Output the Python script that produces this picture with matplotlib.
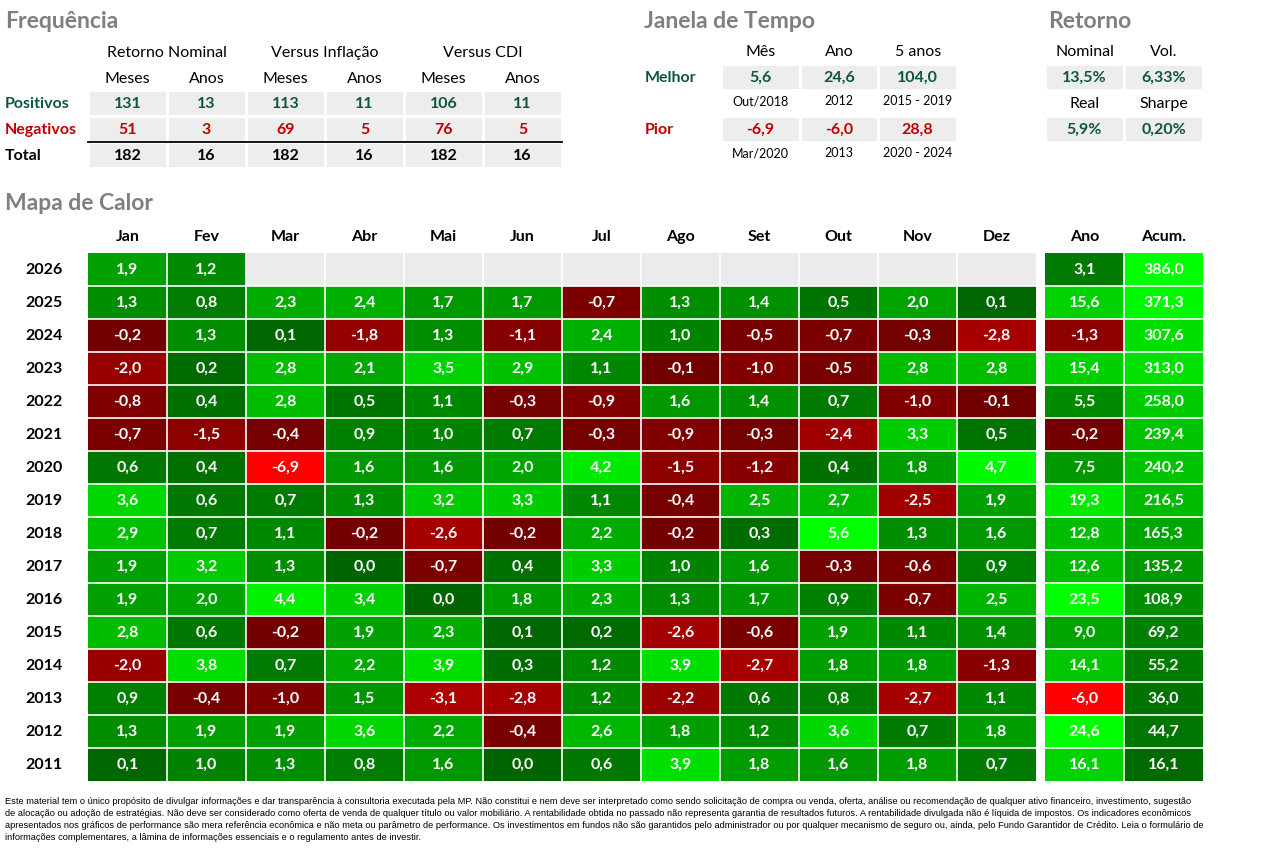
import numpy as np
import matplotlib
matplotlib.use('Agg')
import matplotlib.pyplot as plt
from matplotlib.colors import ListedColormap

plt.rcParams['font.family'] = ['Lato', 'DejaVu Sans']

# ---------------- data ----------------
years = [2026, 2025, 2024, 2023, 2022, 2021, 2020, 2019, 2018, 2017, 2016, 2015, 2014, 2013, 2012, 2011]
months = ['Jan', 'Fev', 'Mar', 'Abr', 'Mai', 'Jun', 'Jul', 'Ago', 'Set', 'Out', 'Nov', 'Dez']
monthly = [
    [1.9, 1.2, None, None, None, None, None, None, None, None, None, None],
    [1.3, 0.8, 2.3, 2.4, 1.7, 1.7, -0.7, 1.3, 1.4, 0.5, 2.0, 0.1],
    [-0.2, 1.3, 0.1, -1.8, 1.3, -1.1, 2.4, 1.0, -0.5, -0.7, -0.3, -2.8],
    [-2.0, 0.2, 2.8, 2.1, 3.5, 2.9, 1.1, -0.1, -1.0, -0.5, 2.8, 2.8],
    [-0.8, 0.4, 2.8, 0.5, 1.1, -0.3, -0.9, 1.6, 1.4, 0.7, -1.0, -0.1],
    [-0.7, -1.5, -0.4, 0.9, 1.0, 0.7, -0.3, -0.9, -0.3, -2.4, 3.3, 0.5],
    [0.6, 0.4, -6.9, 1.6, 1.6, 2.0, 4.2, -1.5, -1.2, 0.4, 1.8, 4.7],
    [3.6, 0.6, 0.7, 1.3, 3.2, 3.3, 1.1, -0.4, 2.5, 2.7, -2.5, 1.9],
    [2.9, 0.7, 1.1, -0.2, -2.6, -0.2, 2.2, -0.2, 0.3, 5.6, 1.3, 1.6],
    [1.9, 3.2, 1.3, 0.0, -0.7, 0.4, 3.3, 1.0, 1.6, -0.3, -0.6, 0.9],
    [1.9, 2.0, 4.4, 3.4, 0.0, 1.8, 2.3, 1.3, 1.7, 0.9, -0.7, 2.5],
    [2.8, 0.6, -0.2, 1.9, 2.3, 0.1, 0.2, -2.6, -0.6, 1.9, 1.1, 1.4],
    [-2.0, 3.8, 0.7, 2.2, 3.9, 0.3, 1.2, 3.9, -2.7, 1.8, 1.8, -1.3],
    [0.9, -0.4, -1.0, 1.5, -3.1, -2.8, 1.2, -2.2, 0.6, 0.8, -2.7, 1.1],
    [1.3, 1.9, 1.9, 3.6, 2.2, -0.4, 2.6, 1.8, 1.2, 3.6, 0.7, 1.8],
    [0.1, 1.0, 1.3, 0.8, 1.6, 0.0, 0.6, 3.9, 1.8, 1.6, 1.8, 0.7],
]
ano = [3.1, 15.6, -1.3, 15.4, 5.5, -0.2, 7.5, 19.3, 12.8, 12.6, 23.5, 9.0, 14.1, -6.0, 24.6, 16.1]
acum = [386.0, 371.3, 307.6, 313.0, 258.0, 239.4, 240.2, 216.5, 165.3, 135.2, 108.9, 69.2, 55.2, 36.0, 44.7, 16.1]

freq_groups = ['Retorno Nominal', 'Versus Inflação', 'Versus CDI']
freq_sub = ['Meses', 'Anos']
freq_rows = ['Positivos', 'Negativos', 'Total']
freq_pos = [131, 13, 113, 11, 106, 11]
freq_neg = [51, 3, 69, 5, 76, 5]
freq_tot = [182, 16, 182, 16, 182, 16]

jan_cols = ['Mês', 'Ano', '5 anos']
jan_melhor = [5.6, 24.6, 104.0]
jan_pior = [-6.9, -6.0, 28.8]
jan_melhor_ref = ['Out/2018', '2012', '2015 - 2019']
jan_pior_ref = ['Mar/2020', '2013', '2020 - 2024']

ret_cols1 = ['Nominal', 'Vol.']
ret_vals1 = [13.5, 6.33]
ret_cols2 = ['Real', 'Sharpe']
ret_vals2 = [5.9, 0.20]

footer = [
    "Este material tem o único propósito de divulgar informações e dar transparência à consultoria executada pela MP. Não constitui e nem deve ser interpretado como sendo solicitação de compra ou venda, oferta, análise ou recomendação de qualquer ativo financeiro, investimento, sugestão",
    "de alocação ou adoção de estratégias. Não deve ser considerado como oferta de venda de qualquer título ou valor mobiliário. A rentabilidade obtida no passado não representa garantia de resultados futuros. A rentabilidade divulgada não é líquida de impostos. Os indicadores econômicos",
    "apresentados nos gráficos de performance são mera referência econômica e não meta ou parâmetro de performance. Os investimentos em fundos não são garantidos pelo administrador ou por qualquer mecanismo de seguro ou, ainda, pelo Fundo Garantidor de Crédito. Leia o formulário de",
    "informações complementares, a lâmina de informações essenciais e o regulamento antes de investir.",
]

# ---------------- style ----------------
W, H = 1282, 859
GRAY_TITLE = '#7F7F7F'
CELL_GRAY = '#EDEDED'
DKGREEN = '#0E5641'
RED = '#C00000'
EMPTY = '#EBEBEB'

fig = plt.figure(figsize=(W / 100, H / 100), dpi=100)
fig.patch.set_facecolor('white')


def px_axes(x0, y0, x1, y1):
    ax = fig.add_axes([x0 / W, 1 - y1 / H, (x1 - x0) / W, (y1 - y0) / H])
    ax.set_axis_off()
    return ax


def ftext(x, y, s, **kw):
    fig.text(x / W, 1 - y / H, s, **kw)


def fmt(v, d=1):
    return f"{v:.{d}f}".replace('.', ',')


def color_for(v, gscale, rscale, gbase=100, rbase=110):
    if v >= 0:
        g = min(255, gbase + gscale * v)
        return (0, g / 255, 0)
    r = min(255, rbase + rscale * abs(v))
    return (r / 255, 0, 0)


def gray_block(ax, nrows, ncols):
    ax.pcolormesh(np.zeros((nrows, ncols)), cmap=ListedColormap([CELL_GRAY]),
                  edgecolors='white', linewidth=1.0)
    ax.set_xlim(0, ncols)
    ax.set_ylim(nrows, 0)


# ---------------- titles ----------------
title_kw = dict(fontsize=16.5, fontweight='bold', color=GRAY_TITLE, va='center', ha='left')
ftext(5, 21, 'Frequência', **title_kw)
ftext(644, 21, 'Janela de Tempo', **title_kw)
ftext(1048, 21, 'Retorno', **title_kw)
ftext(5, 204, 'Mapa de Calor', **title_kw)

# ---------------- Frequência ----------------
fx0, fx1 = 88, 562
ax_f = px_axes(fx0, 90, fx1, 168)
gray_block(ax_f, 3, 6)
ax_f.plot([0, 6], [2, 2], color='black', lw=1.3, clip_on=False)
row_colors = [DKGREEN, RED, 'black']
for r, vals in enumerate([freq_pos, freq_neg, freq_tot]):
    for c, v in enumerate(vals):
        ax_f.text(c + 0.5, r + 0.52, str(v), ha='center', va='center', fontsize=11.5,
                  fontweight='bold', color=row_colors[r])
cw = (fx1 - fx0) / 6
for g, name in enumerate(freq_groups):
    ftext(fx0 + cw * (2 * g + 1), 53, name, ha='center', va='center', fontsize=11.5)
    for s, sub in enumerate(freq_sub):
        ftext(fx0 + cw * (2 * g + s + 0.5), 79, sub, ha='center', va='center', fontsize=11.5)
for r, lab in enumerate(freq_rows):
    ftext(5, 104 + 26 * r, lab, ha='left', va='center', fontsize=11.5, fontweight='bold',
          color=row_colors[r])

# ---------------- Janela de Tempo ----------------
jx0, jx1 = 721, 957
jw = (jx1 - jx0) / 3
for i, name in enumerate(jan_cols):
    ftext(jx0 + jw * (i + 0.5), 52, name, ha='center', va='center', fontsize=11.5)
for (y0, vals, refs, lab, col) in [(64, jan_melhor, jan_melhor_ref, 'Melhor', DKGREEN),
                                   (116, jan_pior, jan_pior_ref, 'Pior', RED)]:
    ax_j = px_axes(jx0, y0, jx1, y0 + 26)
    gray_block(ax_j, 1, 3)
    for c, v in enumerate(vals):
        ax_j.text(c + 0.5, 0.52, fmt(v), ha='center', va='center', fontsize=11.5,
                  fontweight='bold', color=col)
    for c, ref in enumerate(refs):
        ftext(jx0 + jw * (c + 0.5), y0 + 37, ref, ha='center', va='center', fontsize=9)
    ftext(645, y0 + 14, lab, ha='left', va='center', fontsize=11.5, fontweight='bold', color=col)

# ---------------- Retorno ----------------
rx0, rx1 = 1045, 1203
rw = (rx1 - rx0) / 2
for (y0, names, vals, decs) in [(64, ret_cols1, ret_vals1, [1, 2]), (116, ret_cols2, ret_vals2, [1, 2])]:
    for i, name in enumerate(names):
        ftext(rx0 + rw * (i + 0.5), y0 - 12, name, ha='center', va='center', fontsize=11.5)
    ax_r = px_axes(rx0, y0, rx1, y0 + 26)
    gray_block(ax_r, 1, 2)
    for c, v in enumerate(vals):
        ax_r.text(c + 0.5, 0.52, fmt(v, decs[c]) + '%', ha='center', va='center', fontsize=11.5,
                  fontweight='bold', color=DKGREEN)

# ---------------- Heatmap ----------------
nrows = len(years)
hx0, hx1, hy0, hy1 = 88, 1036, 253, 781
ax_h = px_axes(hx0, hy0, hx1, hy1)
rgb = np.zeros((nrows, 12, 3))
for i, row in enumerate(monthly):
    for j, v in enumerate(row):
        if v is None:
            rgb[i, j] = matplotlib.colors.to_rgb(EMPTY)
        else:
            rgb[i, j] = color_for(v, 32, 21)
ax_h.imshow(rgb, aspect='auto', interpolation='nearest', extent=(-0.5, 11.5, nrows - 0.5, -0.5))
ax_h.vlines(np.arange(0.5, 11.5, 1), -0.5, nrows - 0.5, color='white', lw=1.2)
ax_h.hlines(np.arange(0.5, nrows - 0.5, 1), -0.5, 11.5, color='white', lw=1.2)
ax_h.set_xlim(-0.5, 11.5)
ax_h.set_ylim(nrows - 0.5, -0.5)
for i, row in enumerate(monthly):
    for j, v in enumerate(row):
        if v is not None:
            ax_h.text(j, i + 0.02, fmt(v), ha='center', va='center', color='white',
                      fontsize=11.5, fontweight='bold')
for j, m in enumerate(months):
    ax_h.text(j, -0.98, m, ha='center', va='center', fontsize=11.5, fontweight='bold', clip_on=False)
for i, y in enumerate(years):
    ax_h.text(-1.06, i + 0.02, str(y), ha='center', va='center', fontsize=11.5, fontweight='bold',
              clip_on=False)

# Ano / Acum
ax_s = px_axes(1045, hy0, 1203, hy1)
rgb2 = np.zeros((nrows, 2, 3))
acmax = max(acum)
for i in range(nrows):
    rgb2[i, 0] = color_for(ano[i], 7, 24)
    rgb2[i, 1] = color_for(acum[i], 155 / acmax, 24, gbase=100)
ax_s.imshow(rgb2, aspect='auto', interpolation='nearest', extent=(-0.5, 1.5, nrows - 0.5, -0.5))
ax_s.vlines([0.5], -0.5, nrows - 0.5, color='white', lw=1.2)
ax_s.hlines(np.arange(0.5, nrows - 0.5, 1), -0.5, 1.5, color='white', lw=1.2)
ax_s.set_xlim(-0.5, 1.5)
ax_s.set_ylim(nrows - 0.5, -0.5)
for i in range(nrows):
    ax_s.text(0, i + 0.02, fmt(ano[i]), ha='center', va='center', color='white', fontsize=11.5,
              fontweight='bold')
    ax_s.text(1, i + 0.02, fmt(acum[i]), ha='center', va='center', color='white', fontsize=11.5,
              fontweight='bold')
for j, name in enumerate(['Ano', 'Acum.']):
    ax_s.text(j, -0.98, name, ha='center', va='center', fontsize=11.5, fontweight='bold', clip_on=False)

# ---------------- footer ----------------
for k, line in enumerate(footer):
    ftext(5, 801 + 12 * k, line, ha='left', va='center', fontsize=6.7,
          family=['Liberation Sans', 'DejaVu Sans'])

fig.savefig('out.png', dpi=100, facecolor='white')
